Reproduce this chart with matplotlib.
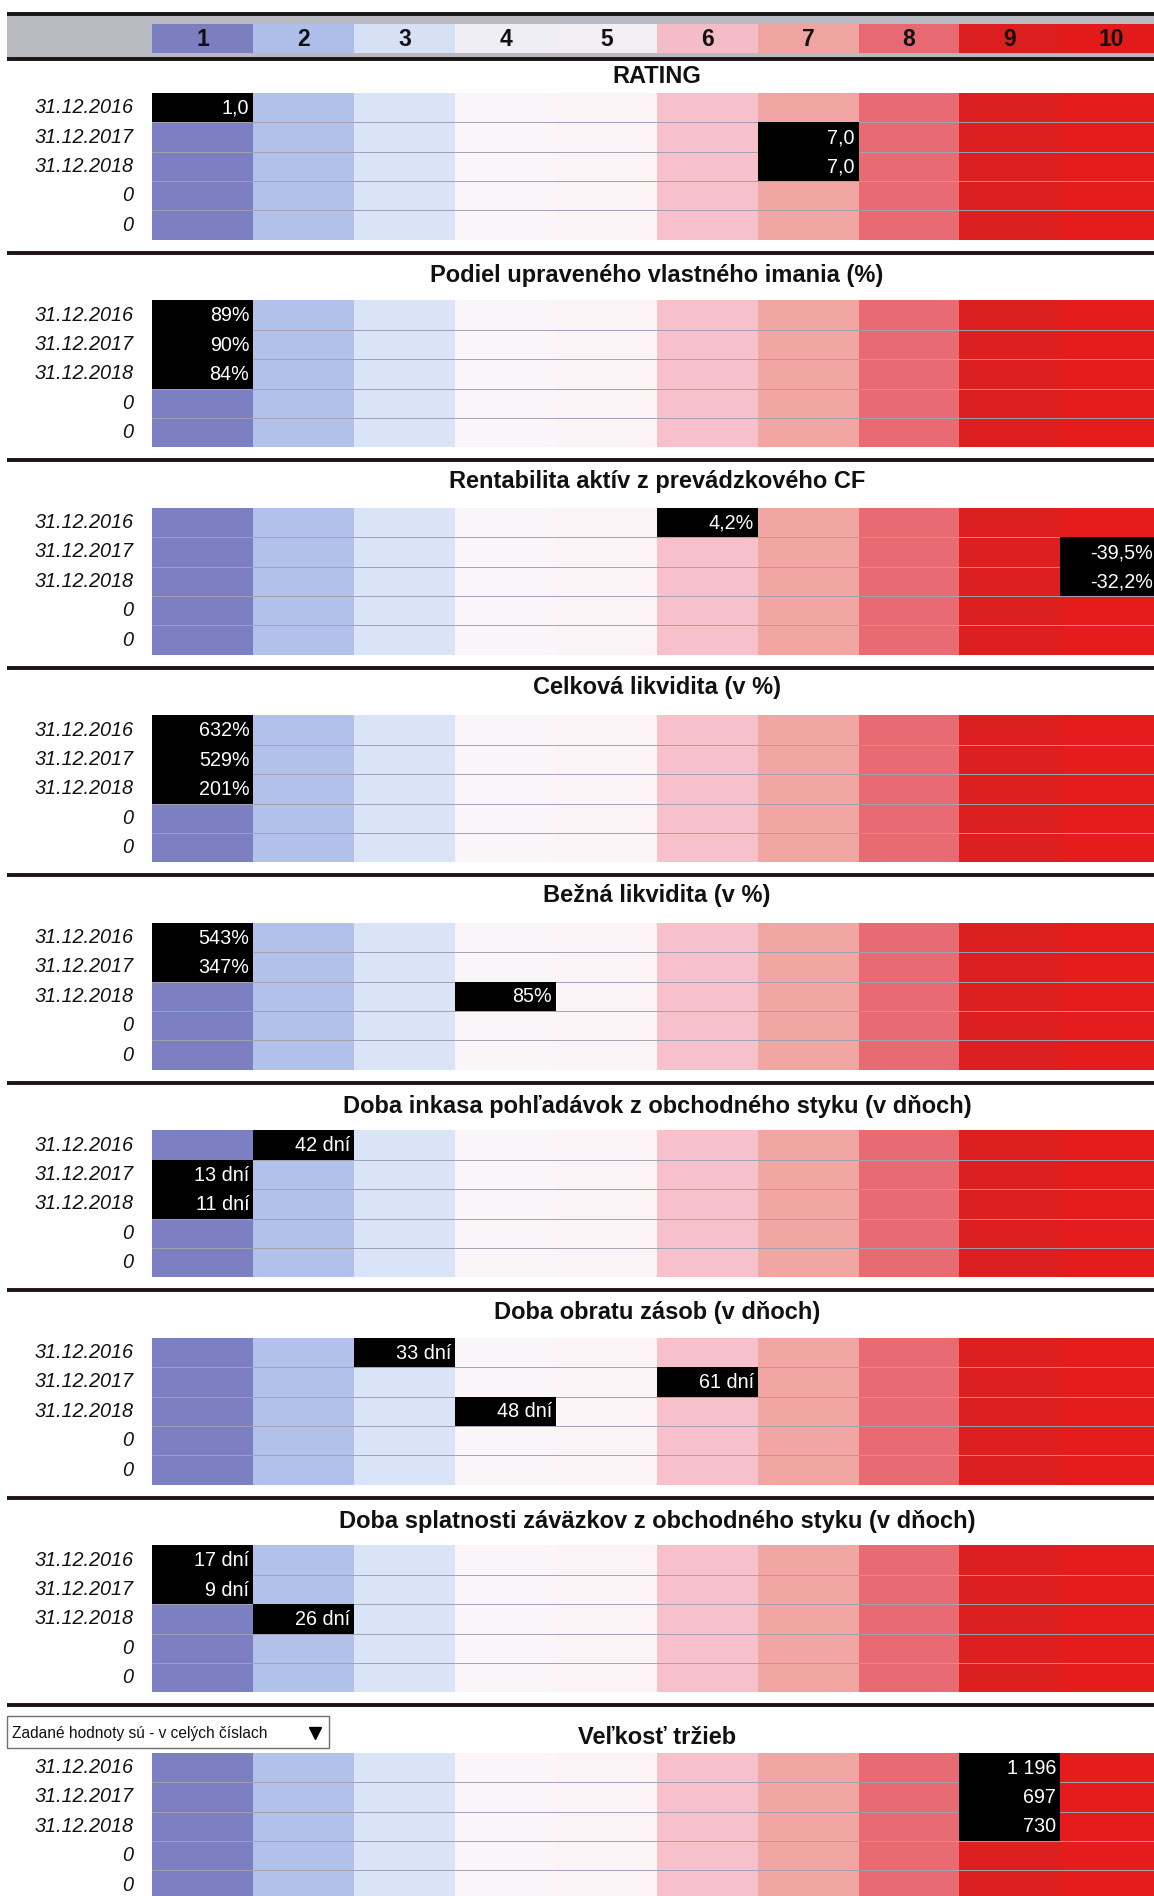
import matplotlib
matplotlib.use("Agg")
import matplotlib.pyplot as plt
from matplotlib.patches import Rectangle

# ---------------- data ----------------
scale_labels = ["1", "2", "3", "4", "5", "6", "7", "8", "9", "10"]
scale_pos = [1, 2, 3, 4, 5, 6, 7, 8, 9, 10]
row_labels = ["31.12.2016", "31.12.2017", "31.12.2018", "0", "0"]

titles = [
    "RATING",
    "Podiel upraveného vlastného imania (%)",
    "Rentabilita aktív z prevádzkového CF",
    "Celková likvidita (v %)",
    "Bežná likvidita (v %)",
    "Doba inkasa pohľadávok z obchodného styku (v dňoch)",
    "Doba obratu zásob (v dňoch)",
    "Doba splatnosti záväzkov z obchodného styku (v dňoch)",
    "Veľkosť tržieb",
]

rating_cols = [1, 7, 7]
rating_text = ["1,0", "7,0", "7,0"]
equity_cols = [1, 1, 1]
equity_text = ["89%", "90%", "84%"]
roa_cols = [6, 10, 10]
roa_text = ["4,2%", "-39,5%", "-32,2%"]
total_liq_cols = [1, 1, 1]
total_liq_text = ["632%", "529%", "201%"]
current_liq_cols = [1, 1, 4]
current_liq_text = ["543%", "347%", "85%"]
receivables_cols = [2, 1, 1]
receivables_text = ["42 dní", "13 dní", "11 dní"]
inventory_cols = [3, 6, 4]
inventory_text = ["33 dní", "61 dní", "48 dní"]
payables_cols = [1, 1, 2]
payables_text = ["17 dní", "9 dní", "26 dní"]
sales_cols = [9, 9, 9]
sales_text = ["1 196", "697", "730"]

panel_cols = [rating_cols, equity_cols, roa_cols, total_liq_cols, current_liq_cols,
              receivables_cols, inventory_cols, payables_cols, sales_cols]
panel_text = [rating_text, equity_text, roa_text, total_liq_text, current_liq_text,
              receivables_text, inventory_text, payables_text, sales_text]

dropdown_text = "Zadané hodnoty sú - v celých číslach"

# ---------------- style ----------------
col_colors = ["#7c7fc1", "#b1c1ea", "#dae4f7", "#f9f5f9", "#fcf3f7",
              "#f6c1ca", "#f2a6a3", "#e86b74", "#dd1f1f", "#e41c1c"]
hdr_colors = ["#7b7fbf", "#adbfe8", "#d6e1f6", "#eeeef4", "#f2eef2",
              "#f3bcc6", "#f0a4a2", "#e76a72", "#dc1e1e", "#e21a1a"]

FONT = ["Liberation Sans", "DejaVu Sans"]
plt.rcParams["font.family"] = FONT

fig = plt.figure(figsize=(11.54, 18.96), dpi=100)
ax = fig.add_axes([0, 0, 1, 1])
# x in scale units (column i spans i-0.5..i+0.5); y in a 1568-high layout space
ax.set_xlim(-1.011, 10.428)
ax.set_ylim(1568, 0)
ax.axis("off")

XL = -0.94   # left edge of separators
XR = 10.428

# ---------------- header ----------------
ax.add_patch(Rectangle((XL, 12), XR - XL, 37, facecolor="#b9b9c2", edgecolor="none", zorder=1))
ax.bar(scale_pos, 24, bottom=20, width=1.0, color=hdr_colors, align="center", zorder=2)
for p, lab in zip(scale_pos, scale_labels):
    ax.text(p, 32.5, lab, ha="center", va="center", fontsize=16.5, fontweight="bold",
            color="#111111", zorder=3)
ax.hlines([11.5, 49], XL, XR, color="#1a1416", lw=2.8, zorder=4)

# ---------------- panels ----------------
row_h = 24.3
first_center = 89.0
panel_step = 171.6
title_off = [26, 33, 34, 35, 35, 32, 33, 32, 25]

for k in range(len(titles)):
    c0 = first_center + panel_step * k
    top = c0 - row_h / 2
    nrows = len(row_labels)
    band_h = row_h * nrows
    # coloured scale band
    ax.bar(scale_pos, band_h, bottom=top, width=1.0, color=col_colors, align="center", zorder=1)
    # row grid lines
    ax.hlines([top + row_h * i for i in range(1, nrows)], 0.5, XR,
              color="#a2a2b0", lw=0.7, zorder=2)
    # row labels
    for i, lab in enumerate(row_labels):
        ax.text(0.31, c0 + row_h * i, lab, ha="right", va="center", fontsize=14.3,
                style="italic", color="#111111", zorder=3)
    # value cells
    cols = panel_cols[k]
    texts = panel_text[k]
    tops = [top + row_h * i for i in range(len(cols))]
    ax.bar(cols, row_h, bottom=tops, width=1.0, color="black", align="center", zorder=3)
    for i, (c, t) in enumerate(zip(cols, texts)):
        xr = min(c + 0.46, XR - 0.01)
        ax.text(xr, c0 + row_h * i + 0.5, t, ha="right", va="center",
                fontsize=14.2, color="white", zorder=4)
    # title
    ax.text(5.5, c0 - title_off[k], titles[k], ha="center", va="center", fontsize=17,
            fontweight="bold", color="#111111", zorder=3)
    # separator
    if k < len(titles) - 1:
        ax.hlines(c0 + 120, XL, XR, color="#1f1214", lw=2.8, zorder=4)

# ---------------- dropdown ----------------
def lay_x(px):
    return 0.5 + (px - 126) / 83.4

dx0, dx1 = lay_x(6), lay_x(272)
ax.add_patch(Rectangle((dx0, 1419), dx1 - dx0, 27, facecolor="white",
                       edgecolor="#707070", lw=1.0, zorder=5))
ax.text(dx0 + 0.05, 1433.5, dropdown_text, ha="left", va="center", fontsize=11.2,
        family=["Liberation Sans Narrow", "Liberation Sans", "DejaVu Sans"],
        color="#111111", zorder=6)
ax.plot([lay_x(260)], [1433], marker="v", color="black", markersize=9, zorder=6)

fig.savefig("out.png", dpi=100)
